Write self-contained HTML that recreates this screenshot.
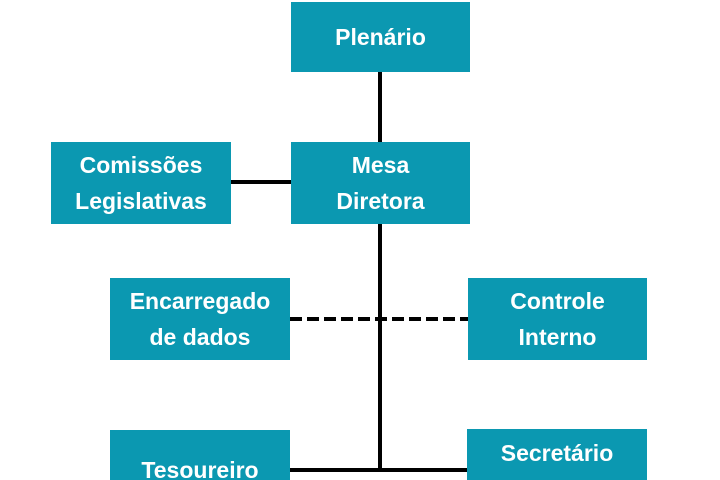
<!DOCTYPE html>
<html style="width:720px;height:480px;overflow:hidden"><head><meta charset="utf-8"><style>
html,body{margin:0;padding:0}
body{width:720px;height:480px;overflow:hidden;background:#fff;position:relative;font-family:"Liberation Sans",sans-serif}
.b{position:absolute;background:#0B98B1;color:#fff;font-weight:bold;font-size:23px;line-height:36px;display:flex;align-items:center;justify-content:center;text-align:center}
.l{position:absolute;background:#000}
</style></head><body>
<div class="l" style="left:378px;top:72px;width:4px;height:70px"></div>
<div class="l" style="left:378px;top:224px;width:4px;height:246px"></div>
<div class="l" style="left:231px;top:180px;width:60px;height:4px"></div>
<div class="l" style="left:290px;top:468px;width:178px;height:4px"></div>
<svg style="position:absolute;left:290px;top:315px" width="178" height="8"><line x1="0" y1="4" x2="178" y2="4" stroke="#000" stroke-width="4" stroke-dasharray="12,5"/></svg>
<div class="b" style="left:291px;top:2px;width:179px;height:70px">Plenário</div>
<div class="b" style="left:291px;top:142px;width:179px;height:82px">Mesa<br>Diretora</div>
<div class="b" style="left:51px;top:142px;width:180px;height:82px">Comissões<br>Legislativas</div>
<div class="b" style="left:110px;top:278px;width:180px;height:82px">Encarregado<br>de dados</div>
<div class="b" style="left:468px;top:278px;width:179px;height:82px">Controle<br>Interno</div>
<div class="b" style="left:110px;top:430px;width:180px;height:50px;align-items:flex-start;padding-top:22px;box-sizing:border-box">Tesoureiro</div>
<div class="b" style="left:467px;top:429px;width:180px;height:51px;align-items:flex-start;padding-top:6px;box-sizing:border-box;overflow:hidden">Secretário<br>Geral</div>
</body></html>
